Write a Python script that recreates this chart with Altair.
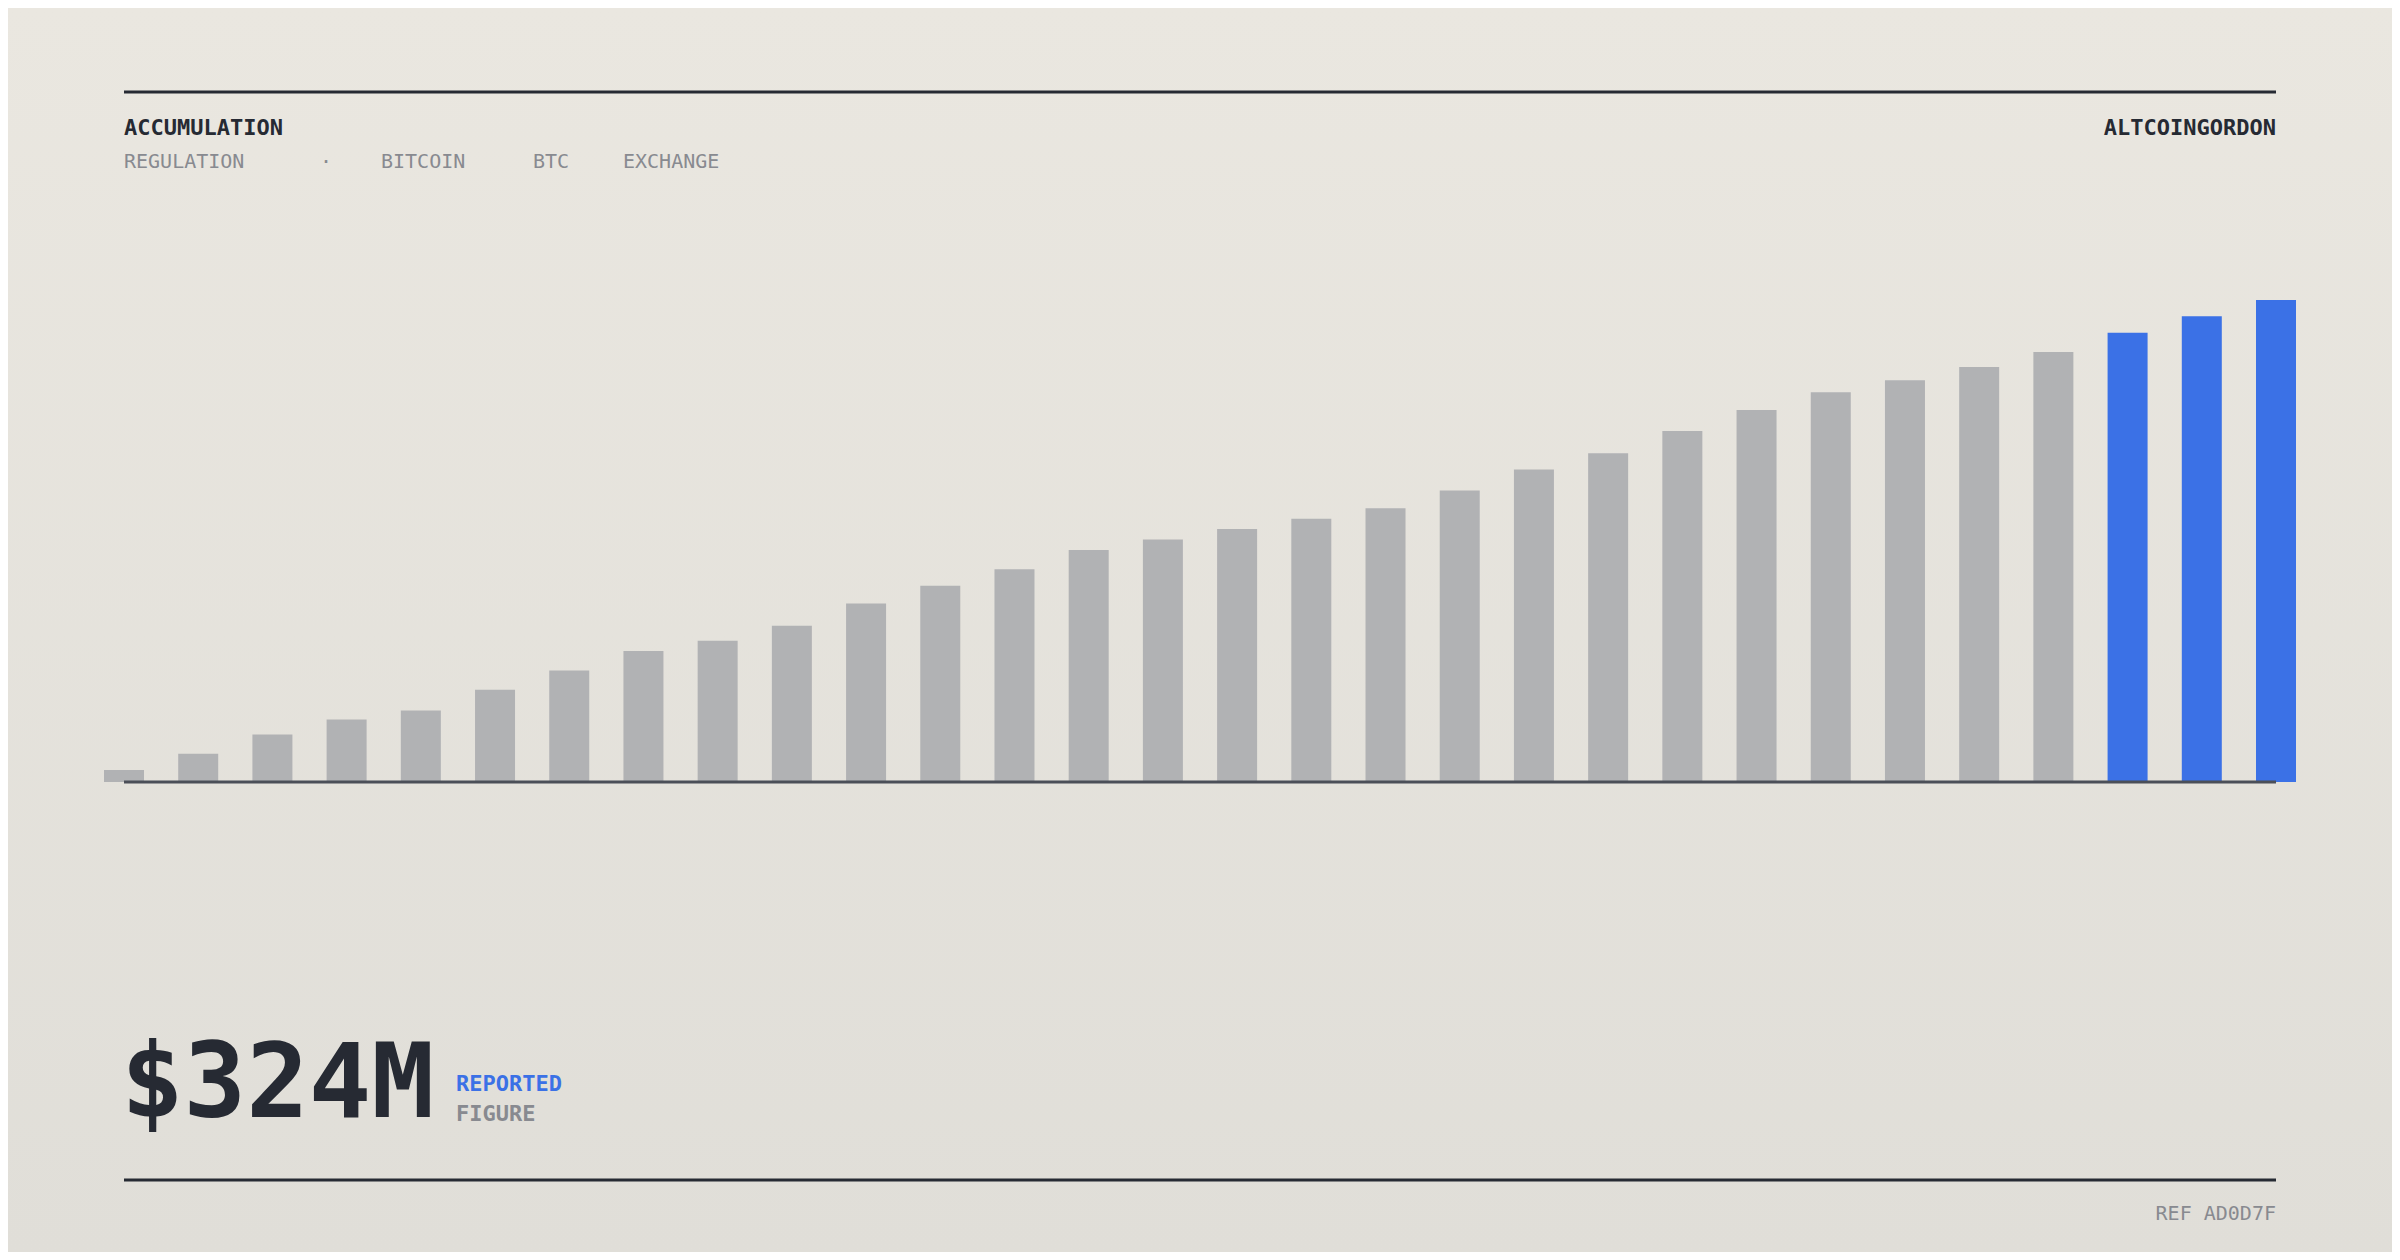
import altair as alt
import pandas as pd

# ---------------- data ----------------
periods = list(range(1, 31))
values = [8, 19, 32, 42, 48, 62, 75, 88, 95, 105, 120, 132, 143, 156, 163,
          170, 177, 184, 196, 210, 221, 236, 250, 262, 270, 279, 289, 302, 313, 324]
groups = ["base"] * 27 + ["recent"] * 3

title = "ACCUMULATION"
tags = ["REGULATION", "·", "BITCOIN", "BTC", "EXCHANGE"]
brand = "ALTCOINGORDON"
headline = "$324M"
headline_top = "REPORTED"
headline_bottom = "FIGURE"
ref_code = "REF AD0D7F"

# ---------------- layout / style ----------------
W, H = 2384, 1244
LEFT, RIGHT = 116, 2268
MONO = "DejaVu Sans Mono"
DARK = "#262a33"
GRAY = "#888a90"
BLUE = "#3b71e6"
BAR_GRAY = "#b1b2b4"
tag_x = [116, 318, 373, 525, 615]
tag_align = ["left", "center", "left", "left", "left"]

df = pd.DataFrame({"period": periods, "value": values, "group": groups})
one = pd.DataFrame({"k": [0]})

bg = alt.Chart(one).mark_rect(
    fill=alt.Gradient(
        gradient="linear",
        stops=[alt.GradientStop(color="#eae7e0", offset=0),
               alt.GradientStop(color="#e0ded8", offset=1)],
        x1=0, y1=0, x2=0, y2=1,
    )
).encode(x=alt.value(0), x2=alt.value(W), y=alt.value(0), y2=alt.value(H))

bars = alt.Chart(df).mark_bar(orient="vertical", size=40).encode(
    x=alt.X("period:Q",
            scale=alt.Scale(domain=[1, 30], range=[LEFT, RIGHT], padding=0, nice=False, zero=False),
            axis=None),
    y=alt.Y("value:Q", scale=alt.Scale(domain=[0, 324], range=[774, 292], nice=False), axis=None),
    color=alt.Color("group:N", scale=alt.Scale(domain=["base", "recent"], range=[BAR_GRAY, BLUE]), legend=None),
)


def hrule(y, color, w):
    return alt.Chart(one).mark_rule(color=color, strokeWidth=w).encode(
        x=alt.value(LEFT), x2=alt.value(RIGHT), y=alt.value(y)
    )


def txt(s, x, y, size, color, weight="normal", align="left"):
    return alt.Chart(pd.DataFrame({"t": [s]})).mark_text(
        font=MONO, fontSize=size, fontWeight=weight, color=color,
        align=align, baseline="alphabetic"
    ).encode(x=alt.value(x), y=alt.value(y), text="t:N")


layers = [
    bg,
    hrule(84, DARK, 3),
    txt(title, LEFT, 127, 22, DARK, "bold"),
    txt(brand, RIGHT, 127, 22, DARK, "bold", "right"),
]
for t, xx, al in zip(tags, tag_x, tag_align):
    layers.append(txt(t, xx, 160, 20, GRAY, "normal", al))
layers += [
    bars,
    hrule(774, "#4b4f58", 3),
    txt(headline, 113, 1109, 104, DARK, "bold"),
    txt(headline_top, 448, 1083, 22, BLUE, "bold"),
    txt(headline_bottom, 448, 1113, 22, GRAY, "bold"),
    hrule(1172, DARK, 3),
    txt(ref_code, RIGHT, 1212, 20, GRAY, "normal", "right"),
]

chart = alt.layer(*layers).properties(
    width=W, height=H,
    autosize=alt.AutoSizeParams(type="none"),
    padding=0,
    background="#e6e3dc",
).configure_view(stroke=None)

chart.save("out.html", embed_options={"renderer": "svg", "actions": False})
